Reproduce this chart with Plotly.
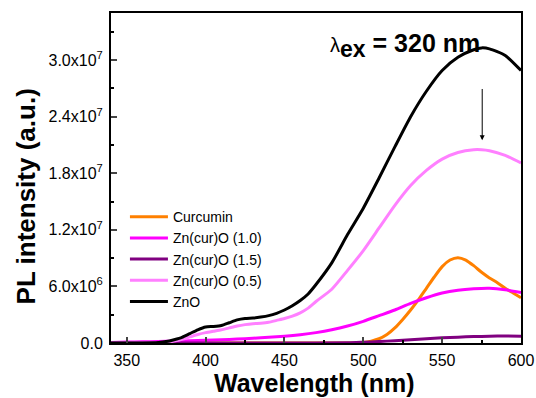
import plotly.graph_objects as go

# Wavelength grids (nm) and intensities (x1e6 a.u.)
wl_zno = [340, 350, 360, 370, 375, 380, 385, 390, 395, 400, 405, 410, 415, 420, 425, 430, 435, 440, 445, 450,
          455, 460, 465, 470, 480, 490, 500, 510, 520, 530, 540, 550, 560, 570, 575, 580, 590, 600]
zno = [0, 0, 0, 0.05, 0.15, 0.35, 0.6, 1.0, 1.4, 1.7, 1.75, 1.85, 2.15, 2.45, 2.6, 2.65, 2.75, 2.9, 3.15, 3.5,
       3.95, 4.5, 5.2, 6.2, 8.5, 11.5, 14.3, 17.5, 20.8, 24.0, 26.7, 28.9, 30.3, 31.1, 31.3, 31.2, 30.5, 28.9]

wl_p05 = [340, 370, 375, 380, 385, 390, 395, 400, 405, 410, 415, 420, 425, 430, 435, 440, 445, 450, 455, 460,
          465, 470, 480, 490, 500, 510, 520, 530, 540, 550, 560, 570, 575, 580, 590, 600]
p05 = [0, 0, 0.05, 0.2, 0.4, 0.65, 0.9, 1.1, 1.25, 1.4, 1.6, 1.8, 1.95, 2.05, 2.1, 2.2, 2.4, 2.6, 2.85, 3.2,
       3.7, 4.4, 5.7, 7.7, 9.8, 12.2, 14.6, 16.7, 18.3, 19.5, 20.2, 20.5, 20.5, 20.4, 19.9, 19.1]

wl_cur = [340, 400, 450, 495, 500, 505, 510, 515, 520, 525, 530, 535, 540, 545, 550, 555, 560, 565, 570, 575,
          580, 585, 590, 595, 600]
cur = [0, 0, 0, 0, 0.05, 0.2, 0.45, 0.9, 1.6, 2.5, 3.5, 4.6, 5.8, 7.0, 8.1, 8.8, 9.05, 8.8, 8.2, 7.5,
       6.9, 6.4, 5.8, 5.3, 4.8]

wl_p10 = [340, 350, 360, 370, 380, 390, 400, 410, 420, 430, 440, 450, 460, 470, 480, 490, 500, 510, 520, 530,
          540, 550, 560, 570, 580, 590, 600]
p10 = [0.05, 0.1, 0.12, 0.15, 0.2, 0.25, 0.3, 0.35, 0.42, 0.5, 0.6, 0.72, 0.88, 1.1, 1.4, 1.8, 2.3, 2.9, 3.5, 4.2,
       4.8, 5.3, 5.6, 5.75, 5.8, 5.65, 5.35]

wl_p15 = [340, 400, 450, 490, 500, 510, 520, 530, 540, 550, 560, 570, 580, 590, 600]
p15 = [0, 0, 0, 0.02, 0.08, 0.15, 0.25, 0.35, 0.45, 0.55, 0.62, 0.68, 0.72, 0.74, 0.72]

y_tickvals = [0, 6e6, 1.2e7, 1.8e7, 2.4e7, 3.0e7]
y_ticktext = ["0.0", "6.0x10<sup>6</sup>", "1.2x10<sup>7</sup>", "1.8x10<sup>7</sup>",
              "2.4x10<sup>7</sup>", "3.0x10<sup>7</sup>"]
x_tickvals = [350, 400, 450, 500, 550, 600]

series = [
    ("Curcumin", wl_cur, cur, "#FF8000"),
    ("Zn(cur)O (1.0)", wl_p10, p10, "#FF00FF"),
    ("Zn(cur)O (1.5)", wl_p15, p15, "#800080"),
    ("Zn(cur)O (0.5)", wl_p05, p05, "#FF80FF"),
    ("ZnO", wl_zno, zno, "#000000"),
]

FONT = "Arial, Liberation Sans, sans-serif"
fig = go.Figure()
for name, x, y, c in series:
    fig.add_trace(go.Scatter(x=x, y=[v * 1e6 for v in y], name=name, mode="lines",
                             line=dict(color=c, width=3, shape="spline", smoothing=0.6)))

fig.update_layout(
    width=536, height=398,
    margin=dict(l=111, r=15, t=13, b=55, autoexpand=False),
    paper_bgcolor="white", plot_bgcolor="white",
    font=dict(family=FONT, color="black", size=14),
    showlegend=True,
    legend=dict(x=0.034, y=0.43, xanchor="left", yanchor="top", bgcolor="rgba(0,0,0,0)",
                font=dict(size=14, family=FONT), tracegroupgap=0, itemwidth=38),
    xaxis=dict(range=[340, 600], tickvals=x_tickvals, ticks="inside", ticklen=6, tickwidth=1.5,
               automargin=False, ticklabelstandoff=2,
               showgrid=False, zeroline=False, showline=True, linecolor="black", linewidth=2,
               mirror=True, tickfont=dict(size=16, family=FONT),
               minor=dict(tickvals=[375, 425, 475, 525, 575], ticks="inside", ticklen=3,
                          tickwidth=1.5, tickcolor="black")),
    yaxis=dict(range=[0, 3.5e7], tickvals=y_tickvals, ticktext=y_ticktext, ticks="inside",
               ticklen=6, tickwidth=1.5, showgrid=False, zeroline=False, showline=True,
               automargin=False, ticklabelstandoff=3,
               linecolor="black", linewidth=2, mirror=True, tickfont=dict(size=16, family=FONT),
               minor=dict(tickvals=[3e6, 9e6, 1.5e7, 2.1e7, 2.7e7, 3.3e7], ticks="inside",
                          ticklen=3, tickwidth=1.5, tickcolor="black")),
)

fig.add_annotation(xref="paper", yref="paper", x=0.494, y=-0.121, yanchor="middle",
                   text="<b>Wavelength (nm)</b>", showarrow=False,
                   font=dict(size=25, family=FONT))
fig.add_annotation(xref="paper", yref="paper", x=-0.205, y=0.444, xanchor="center",
                   yanchor="middle",
                   text="<b>PL intensity (a.u.)</b>", textangle=-90, showarrow=False,
                   font=dict(size=26, family=FONT))
fig.add_annotation(x=477.5, y=3.16e7, xanchor="left", yanchor="middle",
                   text="<span style='font-size:20px'>λ</span><sub><b><span style='font-size:23px'>ex</span></b></sub><b> = 320 nm</b>",
                   showarrow=False, font=dict(size=25, family=FONT))
fig.add_annotation(x=575.4, y=2.15e7, ax=575.4, ay=2.71e7, axref="x", ayref="y",
                   text="", showarrow=True, arrowhead=2, arrowsize=1, arrowwidth=1,
                   arrowcolor="black")

fig.write_html("out.html")
